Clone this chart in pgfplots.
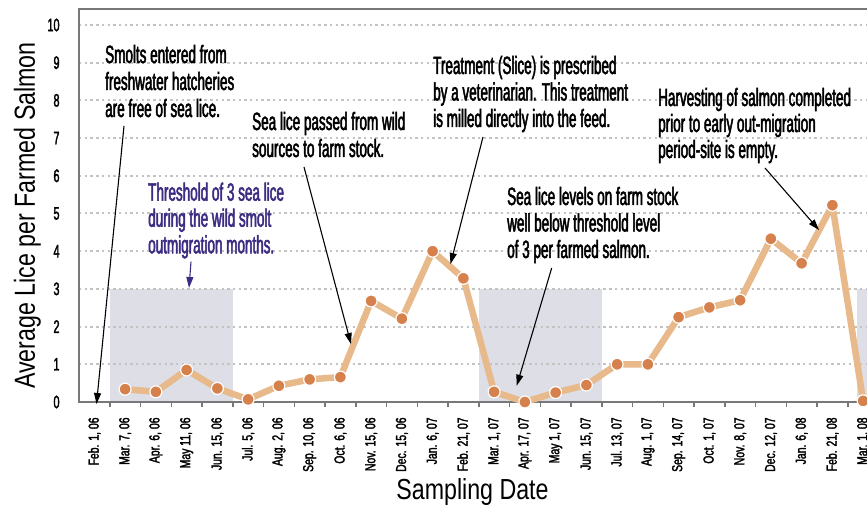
\documentclass[border=0pt]{standalone}
\usepackage{fontspec}
\setmainfont{Liberation Sans}
\usepackage{pgfplots}
\pgfplotsset{compat=1.18}
\usetikzlibrary{arrows.meta}
\newfontfamily\annfont[FakeStretch=0.54,FakeBold=2]{Liberation Sans}
\newfontfamily\xtfont[FakeStretch=0.72,FakeBold=2]{Liberation Sans}
\newfontfamily\ytfont[FakeStretch=0.6,FakeBold=2]{Liberation Sans}
\newfontfamily\labfont[FakeStretch=0.8]{Liberation Sans}
\definecolor{shade}{RGB}{221,222,230}
\definecolor{linec}{RGB}{232,185,138}
\definecolor{markc}{RGB}{214,128,76}
\definecolor{axisc}{RGB}{120,120,120}
\definecolor{gridc}{RGB}{195,195,195}
\definecolor{purp}{RGB}{61,44,130}
\newcommand{\ann}[3]{\node[anchor=base west,inner sep=0pt,font=\annfont\fontsize{25}{27}\selectfont] at (#1,#2) {#3};}
\newcommand{\annp}[3]{\node[anchor=base west,inner sep=0pt,text=purp,font=\annfont\fontsize{25}{27}\selectfont] at (#1,#2) {#3};}
\begin{document}
\begin{tikzpicture}
\begin{axis}[
  name=ax,
  at={(0pt,0pt)}, anchor=south west,
  scale only axis, width=799.5pt, height=393pt,
  xmin=-0.5, xmax=25.5, ymin=0, ymax=10.424,
  set layers, clip=false,
  axis line style={draw=axisc, line width=2.5pt},
  xtick={0,...,25},
  xticklabels={{Feb. 1, 06},{Mar. 7, 06},{Apr. 6, 06},{May 11, 06},{Jun. 15, 06},{Jul. 5, 06},{Aug. 2, 06},{Sep. 10, 06},{Oct. 6, 06},{Nov. 15, 06},{Dec. 15, 06},{Jan. 6, 07},{Feb. 21, 07},{Mar. 1, 07},{Apr. 17, 07},{May 1, 07},{Jun. 15, 07},{Jul. 13, 07},{Aug. 1, 07},{Sep. 14, 07},{Oct. 1, 07},{Nov. 8, 07},{Dec. 12, 07},{Jan. 6, 08},{Feb. 21, 08},{Mar. 1, 08}},
  major x tick style={draw=none},
  minor xtick={0.5,1.5,...,25.5},
  minor x tick style={draw=axisc, line width=1.5pt},
  minor tick length=5pt,
  tick align=outside,
  xtick pos=bottom,
  xticklabel style={rotate=90, anchor=east, inner sep=0pt, font=\xtfont\fontsize{14.5}{14.5}\selectfont},
  xticklabel shift=11pt,
  ytick={0,...,10},
  major y tick style={draw=none},
  ytick pos=left,
  yticklabel style={anchor=east, inner sep=0pt, font=\ytfont\fontsize{18}{18}\selectfont},
  yticklabel shift=15pt,
  /pgf/number format/assume math mode=true,
  ymajorgrids,
  major grid style={draw=gridc, line width=2pt, dash pattern=on 2.4pt off 3.3pt},
]
\addplot[on layer=axis background, fill=shade, draw=none] coordinates {(0.5,3) (4.5,3)} \closedcycle;
\addplot[on layer=axis background, fill=shade, draw=none] coordinates {(12.5,3) (16.5,3)} \closedcycle;
\addplot[on layer=axis background, fill=shade, draw=none] coordinates {(24.8,3) (25.5,3)} \closedcycle;
\addplot[draw=linec, line width=6.5pt, line join=round,
  mark=*, mark size=6pt, mark options={fill=markc, draw=white, line width=1.2pt}]
  coordinates {
  (1,0.34) (2,0.27) (3,0.85) (4,0.36) (5,0.07) (6,0.43) (7,0.60) (8,0.66)
  (9,2.68) (10,2.21) (11,4.00) (12,3.28) (13,0.27) (14,0.0) (15,0.25)
  (16,0.45) (17,1.0) (18,1.0) (19,2.25) (20,2.51) (21,2.70) (22,4.33)
  (23,3.68) (24,5.22) (25,0.03)
  };
\end{axis}
\begin{scope}[shift={(ax.south west)}, xshift=-79pt, yshift=-108pt, x=1pt, y=1pt]
% axis labels
\node[rotate=90, anchor=base, inner sep=0pt, font=\labfont\fontsize{29}{29}\selectfont] at (35,294.5) {Average Lice per Farmed Salmon};
\node[anchor=base, inner sep=0pt, font=\labfont\fontsize{29}{29}\selectfont] at (472.5,10) {Sampling Date};
% annotations
\ann{105}{447}{Smolts entered from}
\ann{105}{420}{freshwater hatcheries}
\ann{105}{393}{are free of sea lice.}
\ann{252}{380}{Sea lice passed from wild}
\ann{252}{353}{sources to farm stock.}
\ann{433}{436}{Treatment (Slice) is prescribed}
\ann{433}{409.5}{by a veterinarian. This treatment}
\ann{433}{383}{is milled directly into the feed.}
\ann{507}{305}{Sea lice levels on farm stock}
\ann{507}{278.5}{well below threshold level}
\ann{507}{252}{of 3 per farmed salmon.}
\ann{658}{404}{Harvesting of salmon completed}
\ann{658}{378}{prior to early out-migration}
\ann{658}{352}{period-site is empty.}
\annp{148}{309.3}{Threshold of 3 sea lice}
\annp{148}{283.3}{during the wild smolt}
\annp{148}{256.7}{outmigration months.}
% arrows
\begin{scope}[line width=1.1pt, -{Triangle[length=11pt,width=7pt]}]
\draw (124,384) -- (96.5,106);
\draw (304,343) -- (351,166);
\draw (483,373) -- (450.5,246);
\draw (551.7,242) -- (516.7,124.3);
\draw (765,342) -- (819,280);
\draw[purp] (191,248.3) -- (189,222);
\end{scope}
\pgfresetboundingbox
\useasboundingbox (0,0) rectangle (867,510);
\end{scope}
\end{tikzpicture}
\end{document}
